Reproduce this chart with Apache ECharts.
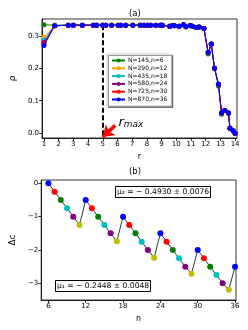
<!DOCTYPE html>
<html><head><meta charset="utf-8">
<script src="https://cdn.jsdelivr.net/npm/echarts@6.0.0/dist/echarts.min.js"></script>
<style>html,body{margin:0;padding:0;background:#fff}#c{width:248px;height:330px}</style>
</head><body><div id="c"></div>
<script>
// ---------- Panel (a) data ----------
const rValues = [1.0, 1.73, 2.65, 3.0, 3.61, 4.36, 4.58, 5.0, 5.2, 5.6, 6.05, 6.22, 6.56, 7.05, 7.55, 7.8, 8.05, 8.25, 8.6, 8.92, 9.05, 9.55, 9.75, 9.88, 10.2, 10.5, 10.65, 10.95, 11.1, 11.38, 11.55, 11.88, 12.17, 12.38, 12.6, 12.87, 13.08, 13.3, 13.55, 13.65, 13.87, 14.0];
const seriesNames = ['N=145,n=6', 'N=290,n=12', 'N=435,n=18', 'N=580,n=24', 'N=725,n=30', 'N=870,n=36'];
const seriesColors = ['#008000', '#ffa500', '#00bfbf', '#800080', '#ff0000', '#0000ff'];
const rhoN145 = [0.334, 0.333, 0.333, 0.333, 0.333, 0.333, 0.333, 0.333, 0.333, 0.333, 0.333, 0.333, 0.333, 0.333, 0.333, 0.333, 0.333, 0.333, 0.333, 0.333, 0.333, 0.330, 0.332, 0.331, 0.330, 0.334, 0.328, 0.332, 0.330, 0.326, 0.327, 0.323, 0.244, 0.275, 0.200, 0.145, 0.058, 0.070, 0.062, 0.015, 0.007, 0.0];
const rhoN290 = [0.296, 0.331, 0.333, 0.333, 0.333, 0.333, 0.333, 0.333, 0.333, 0.333, 0.333, 0.333, 0.333, 0.333, 0.333, 0.333, 0.333, 0.333, 0.333, 0.333, 0.333, 0.330, 0.332, 0.331, 0.330, 0.334, 0.328, 0.332, 0.330, 0.326, 0.327, 0.323, 0.248, 0.275, 0.200, 0.150, 0.061, 0.070, 0.062, 0.015, 0.007, 0.0];
const rhoN435 = [0.287, 0.331, 0.333, 0.333, 0.333, 0.333, 0.333, 0.333, 0.333, 0.333, 0.333, 0.333, 0.333, 0.333, 0.333, 0.333, 0.333, 0.333, 0.333, 0.333, 0.333, 0.330, 0.332, 0.331, 0.330, 0.334, 0.328, 0.332, 0.330, 0.326, 0.327, 0.323, 0.249, 0.275, 0.200, 0.151, 0.062, 0.070, 0.062, 0.015, 0.007, 0.0];
const rhoN580 = [0.280, 0.331, 0.333, 0.333, 0.333, 0.333, 0.333, 0.333, 0.333, 0.333, 0.333, 0.333, 0.333, 0.333, 0.333, 0.333, 0.333, 0.333, 0.333, 0.333, 0.333, 0.330, 0.332, 0.331, 0.330, 0.334, 0.328, 0.332, 0.330, 0.326, 0.327, 0.323, 0.249, 0.275, 0.200, 0.151, 0.062, 0.070, 0.062, 0.015, 0.007, 0.0];
const rhoN725 = [0.275, 0.331, 0.333, 0.333, 0.333, 0.333, 0.333, 0.333, 0.333, 0.333, 0.333, 0.333, 0.333, 0.333, 0.333, 0.333, 0.333, 0.333, 0.333, 0.333, 0.333, 0.330, 0.332, 0.331, 0.330, 0.334, 0.328, 0.332, 0.330, 0.326, 0.327, 0.323, 0.249, 0.275, 0.200, 0.151, 0.062, 0.070, 0.062, 0.015, 0.007, 0.0];
const rhoN870 = [0.270, 0.331, 0.333, 0.333, 0.333, 0.333, 0.333, 0.333, 0.333, 0.333, 0.333, 0.333, 0.333, 0.333, 0.333, 0.333, 0.333, 0.333, 0.333, 0.333, 0.333, 0.330, 0.332, 0.331, 0.330, 0.334, 0.328, 0.332, 0.330, 0.326, 0.327, 0.323, 0.249, 0.275, 0.200, 0.151, 0.062, 0.070, 0.062, 0.015, 0.007, 0.0];
const rhoSeries = [rhoN145, rhoN290, rhoN435, rhoN580, rhoN725, rhoN870];
const xTicksA = [1, 2, 3, 4, 5, 6, 7, 8, 9, 10, 11, 12, 13, 14];
const yTicksA = [0, 0.1, 0.2, 0.3];
const rMax = 5;
const rhoPlateau = 0.333;
const arrowTail = [5.85, 0.024];
const arrowHead = [5.0, -0.012];
const rMaxLabelAt = [6.07, 0.034];

// ---------- Panel (b) data ----------
const nValues = [6, 7, 8, 9, 10, 11, 12, 13, 14, 15, 16, 17, 18, 19, 20, 21, 22, 23, 24, 25, 26, 27, 28, 29, 30, 31, 32, 33, 34, 35, 36];
const deltaC = [0, -0.25, -0.5, -0.75, -1.0, -1.25, -0.5, -0.75, -1.0, -1.25, -1.5, -1.74, -1.0, -1.25, -1.5, -1.75, -2.0, -2.23, -1.5, -1.75, -2.0, -2.25, -2.5, -2.71, -2.0, -2.25, -2.5, -2.75, -3.0, -3.19, -2.5];
const cycleColors = ['#0000ff', '#ff0000', '#008000', '#00bfbf', '#800080', '#bfbf00'];
const xTicksB = [6, 12, 18, 24, 30, 36];
const yTicksB = [-3, -2, -1, 0];
const mu2Text = 'μ₂ = − 0.4930 ± 0.0076';
const mu1Text = 'μ₁ = − 0.2448 ± 0.0048';

const FONT = 'DejaVu Sans';
function axisStyle(ticks, fmt) {
  return {
    axisLine: { show: true, onZero: false, lineStyle: { color: '#000', width: 0.8 } },
    axisTick: { show: true, inside: false, length: 3, customValues: ticks, lineStyle: { color: '#000', width: 0.8 } },
    axisLabel: { customValues: ticks, fontSize: 7, color: '#000', margin: 3, fontFamily: FONT, formatter: fmt },
    splitLine: { show: false }
  };
}

const seriesA = seriesNames.map((name, i) => {
  const s = {
    name: name, type: 'line', xAxisIndex: 0, yAxisIndex: 0,
    data: rValues.map((r, k) => [r, rhoSeries[i][k]]),
    symbol: 'circle', symbolSize: 5, color: seriesColors[i],
    lineStyle: { width: 1, color: seriesColors[i] },
    itemStyle: { color: seriesColors[i] },
    z: 2 + i, animation: false
  };
  if (i === 0) {
    s.markLine = {
      silent: true, symbol: ['none', 'none'], animation: false,
      label: { show: false },
      lineStyle: { color: '#000', type: [5, 2.5], width: 2 },
      data: [[{ coord: [rMax, rhoPlateau] }, { coord: [rMax, -0.015] }]]
    };
  }
  if (i === 5) {
    s.markLine = {
      silent: true, symbol: ['none', 'arrow'], symbolSize: 11, animation: false, z: 20,
      label: { show: false },
      itemStyle: { color: '#ff0000' },
      lineStyle: { color: '#ff0000', type: 'solid', width: 3.5, opacity: 1 },
      emphasis: { disabled: true },
      data: [[{ coord: arrowTail, symbol: 'none' }, { coord: arrowHead, symbol: 'arrow', symbolSize: 11 }]]
    };
    s.markPoint = {
      silent: true, animation: false,
      data: [{
        coord: rMaxLabelAt, symbol: 'circle', symbolSize: 0,
        label: {
          show: true, position: 'inside', align: 'left', verticalAlign: 'middle',
          formatter: '{r|r}{m|max}',
          rich: {
            r: { fontSize: 13, fontStyle: 'italic', fontFamily: FONT, color: '#000', verticalAlign: 'bottom' },
            m: { fontSize: 9, fontStyle: 'italic', fontFamily: FONT, color: '#000', verticalAlign: 'bottom', padding: [6, 0, 0, 0] }
          }
        }
      }]
    };
  }
  return s;
});

const seriesB = {
  type: 'line', xAxisIndex: 1, yAxisIndex: 1,
  data: nValues.map((n, k) => ({ value: [n, deltaC[k]], itemStyle: { color: cycleColors[(n - 6) % 6] } })),
  symbol: 'circle', symbolSize: 6, color: '#000',
  lineStyle: { width: 0.8, color: '#000' },
  z: 3, animation: false
};

const chart = echarts.init(document.getElementById('c'), null, { renderer: 'canvas' });
chart.setOption({
  animation: false,
  backgroundColor: '#fff',
  textStyle: { fontFamily: FONT },
  title: [
    { text: '(a)', left: 129, top: 9, padding: 0, textStyle: { fontSize: 8.5, fontWeight: 'normal', color: '#000', fontFamily: FONT } },
    { text: '(b)', left: 129, top: 167, padding: 0, textStyle: { fontSize: 8.5, fontWeight: 'normal', color: '#000', fontFamily: FONT } },
    { text: mu2Text, left: 115, top: 186, padding: [2, 2], borderColor: '#000', borderWidth: 1, backgroundColor: '#fff',
      textStyle: { fontSize: 7.6, fontWeight: 'normal', color: '#000', fontFamily: FONT } },
    { text: mu1Text, left: 55, top: 280, padding: [2, 2], borderColor: '#000', borderWidth: 1, backgroundColor: '#fff',
      textStyle: { fontSize: 7.6, fontWeight: 'normal', color: '#000', fontFamily: FONT } }
  ],
  legend: {
    data: seriesNames, orient: 'vertical', left: 107, top: 54,
    itemWidth: 13, itemHeight: 5, itemGap: 0.8,
    padding: [3, 4, 3, 4],
    backgroundColor: '#fff', borderColor: '#bbb', borderWidth: 0.8,
    shadowColor: 'rgba(0,0,0,0.5)', shadowBlur: 0, shadowOffsetX: 1.5, shadowOffsetY: 1.5,
    textStyle: { fontSize: 6, color: '#000', fontFamily: FONT, lineHeight: 7, padding: [0, 0, 0, -2] }
  },
  grid: [
    { left: 33, top: 19, width: 204, height: 119, show: true, borderColor: '#000', borderWidth: 0.8, backgroundColor: '#fff' },
    { left: 33, top: 180, width: 203, height: 120, show: true, borderColor: '#000', borderWidth: 0.8, backgroundColor: '#fff' }
  ],
  xAxis: [
    Object.assign({ type: 'value', gridIndex: 0, min: 0.87, max: 14.13, name: 'r', nameLocation: 'middle', nameGap: 15,
      nameTextStyle: { fontSize: 8, color: '#000', fontFamily: FONT } }, axisStyle(xTicksA, v => String(v))),
    Object.assign({ type: 'value', gridIndex: 1, min: 4.85, max: 36.15, name: 'n', nameLocation: 'middle', nameGap: 15,
      nameTextStyle: { fontSize: 8, color: '#000', fontFamily: FONT } }, axisStyle(xTicksB, v => String(v)))
  ],
  yAxis: [
    Object.assign({ type: 'value', gridIndex: 0, min: -0.015, max: 0.352, name: 'ρ', nameLocation: 'middle', nameGap: 22, nameRotate: 90,
      nameTextStyle: { fontSize: 9, color: '#000', fontFamily: FONT } }, axisStyle(yTicksA, v => v.toFixed(1))),
    Object.assign({ type: 'value', gridIndex: 1, min: -3.5, max: 0.1, name: 'Δc', nameLocation: 'middle', nameGap: 20, nameRotate: 90,
      nameTextStyle: { fontSize: 9, color: '#000', fontFamily: FONT } }, axisStyle(yTicksB, v => (v < 0 ? '−' + Math.abs(v) : String(v))))
  ],
  series: seriesA.concat([seriesB])
});
</script>
</body></html>
